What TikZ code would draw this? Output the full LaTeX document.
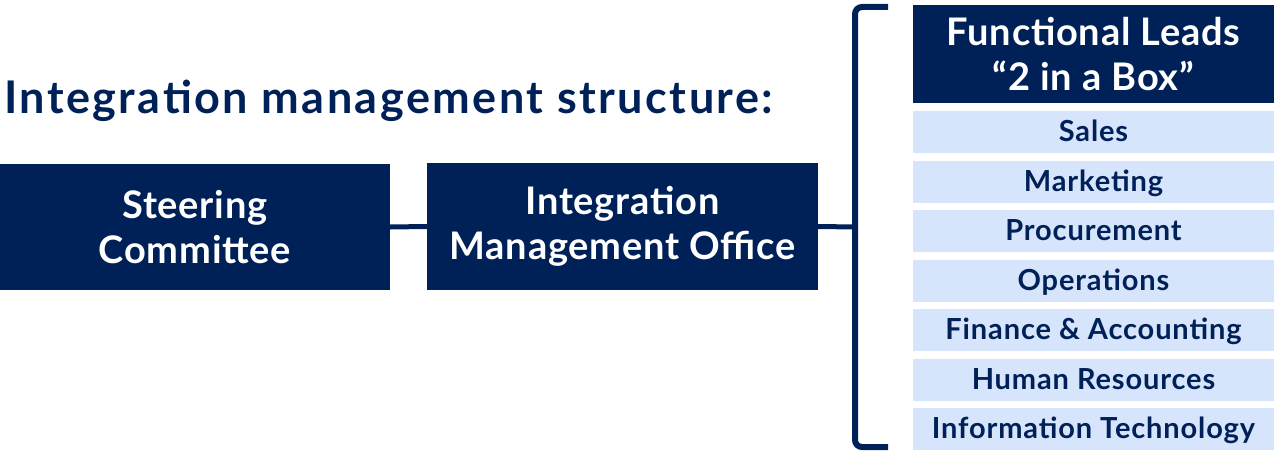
\documentclass[tikz,border=0pt]{standalone}
\usepackage{fontspec}
\setmainfont{Lato}
\usepackage{tikz}
\usetikzlibrary{positioning}
\definecolor{navy}{RGB}{0,33,87}
\definecolor{paleblue}{RGB}{214,228,252}
\tikzset{
  darkbox/.style={fill=navy,text=white,align=center,inner sep=0pt,font=\fontsize{38}{45}\selectfont\bfseries\addfontfeature{LetterSpace=2}},
  funcbox/.style={fill=paleblue,text=navy,minimum width=361pt,minimum height=42pt,inner sep=0pt,text height=25pt,text depth=6pt,font=\fontsize{29}{32}\selectfont\bfseries\addfontfeature{LetterSpace=3}},
  link/.style={navy,line width=5pt},
  brace/.style={navy,line width=6pt,rounded corners=7pt},
}
\begin{document}
\begin{tikzpicture}[x=1pt,y=-1pt]
\useasboundingbox (0,0) rectangle (1274,452);
\node[font=\fontsize{45}{50}\selectfont\bfseries\addfontfeature{LetterSpace=5.5},text=navy,anchor=west,inner sep=0pt] (title) at (4,101) {Integration management structure:};
\node[darkbox,minimum width=390pt,minimum height=126pt] (sc) at (195,227) {Steering\\Committee};
\node[darkbox,minimum width=391pt,minimum height=127pt] (imo) at (622.5,226.5) {Integration\\Management Office};
\node[darkbox,minimum width=361pt,minimum height=98pt] (leads) at (1093.5,54) {Functional Leads\\``2 in a Box''};
\foreach \i/\t in {0/Sales,1/Marketing,2/Procurement,3/Operations,4/Finance \& Accounting,5/Human Resources,6/Information Technology}
  \node[funcbox] (f\i) at (1093.5,132+49.5*\i) {\t};
% bracket round the functional leads
\coordinate (btop) at (888,7);
\coordinate (bbot) at (888,447);
\coordinate (bmid) at (855,227);
\draw[brace] (btop) -- (855,7) -- (855,447) -- (bbot);
\draw[link] (sc.east) -- (imo.west);
\draw[link] (imo.east) -- (bmid);
\end{tikzpicture}
\end{document}
